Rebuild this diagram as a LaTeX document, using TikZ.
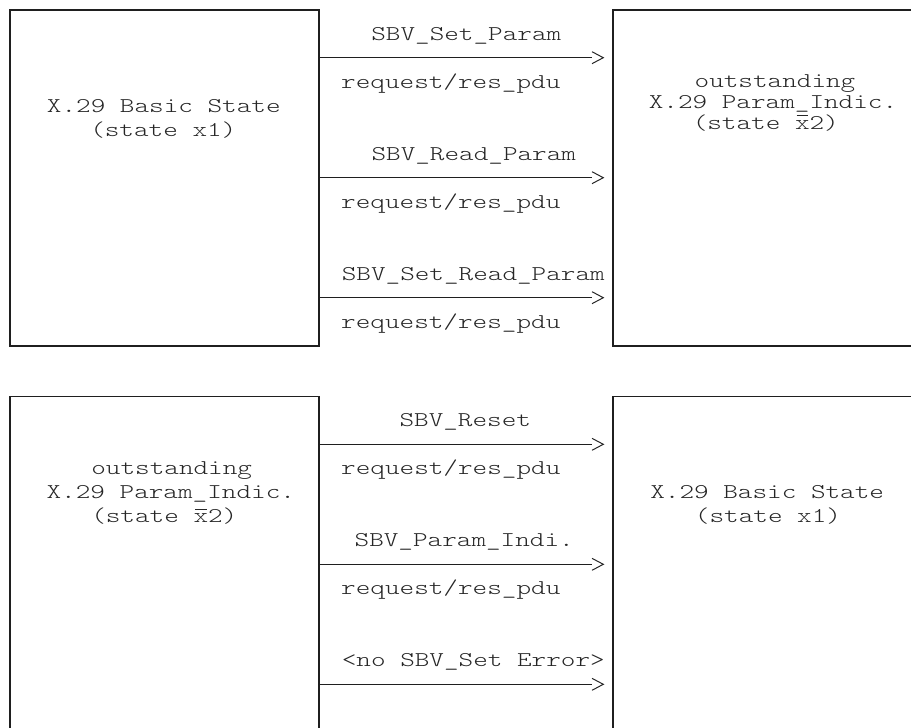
\documentclass[tikz,border=0pt]{standalone}
\usepackage{fontspec}
\newfontfamily\cour{lmmonolt10-regular.otf}[FakeStretch=1.325]
\usetikzlibrary{calc}
\newcommand\ovx{\rlap{\hspace{0.08em}\rule[0.6em]{0.54em}{0.05em}}x}
\newcommand\myarrow[3]{%
  \draw[conn] (#1.east |- 0,#3) -- ($(#2.west |- 0,#3)+(-21,0)$);
  \draw[chev] ($(#2.west |- 0,#3)+(-20.7,-6)$) -- ($(#2.west |- 0,#3)+(-9.4,0)$) -- ($(#2.west |- 0,#3)+(-20.7,6)$);}
\begin{document}
\begin{tikzpicture}[x=1pt,y=-1pt,
  box/.style={draw=black!88, line width=1.6pt, inner sep=0pt, outer sep=0pt},
  txt/.style={font=\cour\fontsize{21}{23}\selectfont, text=black!85, inner sep=0pt, anchor=base},
  conn/.style={draw=black!88, line width=1.3pt},
  chev/.style={draw=black!85, line width=1pt, line join=miter}]
\useasboundingbox (0,0) rectangle (911,728);
\clip (0,0) rectangle (911,728);
% boxes
\node[box, minimum width=309pt, minimum height=336pt] (TL) at (164.2,177.7) {};
\node[box, minimum width=317.3pt, minimum height=336pt] (TR) at (771.35,177.7) {};
\node[box, minimum width=309pt, minimum height=343.7pt] (BL) at (164.2,568.15) {};
\node[box, minimum width=317.3pt, minimum height=343.7pt] (BR) at (771.35,568.15) {};
% arrows
\myarrow{TL}{TR}{57.7}
\myarrow{TL}{TR}{177.7}
\myarrow{TL}{TR}{297.7}
\myarrow{BL}{BR}{444.3}
\myarrow{BL}{BR}{564.3}
\myarrow{BL}{BR}{684.3}
% top labels
\node[txt] (l1) at (466.3,40.2) {SBV\textunderscore Set\textunderscore Param};
\node[txt] (l2) at (450.8,88.2) {request/res\textunderscore pdu};
\node[txt] (l3) at (473.8,160.2) {SBV\textunderscore Read\textunderscore Param};
\node[txt] (l4) at (450.8,208.2) {request/res\textunderscore pdu};
\node[txt] (l5) at (473.3,280.2) {SBV\textunderscore Set\textunderscore Read\textunderscore Param};
\node[txt] (l6) at (450.8,328.2) {request/res\textunderscore pdu};
% bottom labels
\node[txt] (m1) at (465.3,426.8) {SBV\textunderscore Reset};
\node[txt] (m2) at (450.8,474.8) {request/res\textunderscore pdu};
\node[txt] (m3) at (464.2,546.8) {SBV\textunderscore Param\textunderscore Indi.};
\node[txt] (m4) at (450.8,594.8) {request/res\textunderscore pdu};
\node[txt] (m5) at (473.3,666.8) {<no SBV\textunderscore Set Error>};
% box texts
\node[txt] (tl1) at (163.8,112.2) {X.29 Basic State};
\node[txt] (tl2) at (163.3,136.2) {(state x1)};
\node[txt] (tr1) at (775,87) {outstanding};
\node[txt] (tr2) at (773,108) {X.29 Param\textunderscore Indic.};
\node[txt] (tr3) at (765.8,129) {(state \ovx2)};
\node[txt] (bl1) at (171.7,474.8) {outstanding};
\node[txt] (bl2) at (170.8,498.8) {X.29 Param\textunderscore Indic.};
\node[txt] (bl3) at (164.3,522.8) {(state \ovx2)};
\node[txt] (br1) at (767.2,498.8) {X.29 Basic State};
\node[txt] (br2) at (768,522.8) {(state x1)};
\end{tikzpicture}
\end{document}
